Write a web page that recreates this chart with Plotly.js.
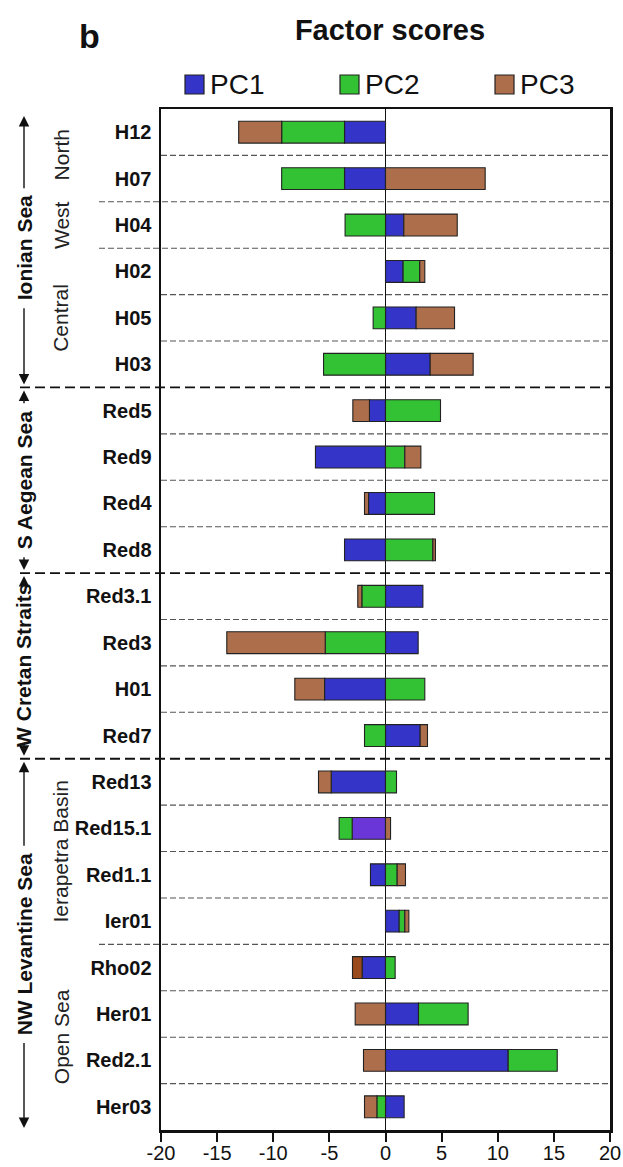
<!DOCTYPE html>
<html>
<head>
<meta charset="utf-8">
<script src="https://cdn.plot.ly/plotly-3.0.1.min.js"></script>
<style>html,body{margin:0;padding:0;background:#fff;}#chart{width:623px;height:1167px;}</style>
</head>
<body>
<div id="chart"></div>
<script>
// ---- data ----
const sites = ["H12","H07","H04","H02","H05","H03","Red5","Red9","Red4","Red8","Red3.1","Red3","H01","Red7","Red13","Red15.1","Red1.1","Ier01","Rho02","Her01","Red2.1","Her03"];
const seriesNames = ["PC1","PC2","PC3"];
const pc1 = [-3.65,-3.65,1.63,1.57,2.73,3.98,-1.43,-6.24,-1.51,-3.65,3.33,2.91,-5.43,3.09,-4.84,-2.97,-1.34,1.22,-2.08,2.94,10.93,1.66];
const pc2 = [-5.6,-5.6,-3.6,1.48,-1.1,-5.52,4.9,1.72,4.37,4.22,-2.11,-5.37,3.5,-1.87,0.98,-1.16,1.04,0.5,0.86,4.42,4.37,-0.77];
const pc3 = [-3.83,8.88,4.76,0.45,3.42,3.83,-1.48,1.43,-0.36,0.23,-0.36,-8.77,-2.65,0.65,-1.13,0.45,0.74,0.36,-0.86,-2.7,-1.96,-1.1];
const tickVals = [-20,-15,-10,-5,0,5,10,15,20];
const tickText = ["-20","-15","-10","-5","0","5","10","15","20"];
const majorNames = ["Ionian Sea","S Aegean Sea","W Cretan Straits","NW Levantine Sea"];
const majorStart = [0,6,10,14];
const majorEnd = [5,9,13,21];
const subNames = ["North","West","Central","Ierapetra Basin","Open Sea"];
const subStart = [0,2,3,14,18];
const subEnd = [1,2,5,17,21];

// ---- style ----
const blue = "#3434c8", green = "#33c233", brown = "#ad6e4b";
const purple = "#6a36d8", darkBrown = "#9a4a1c";
const pc1Colors = sites.map(s => s === "Red15.1" ? purple : blue);
const pc3Colors = sites.map(s => s === "Rho02" ? darkBrown : brown);
const baseColors = [blue, green, brown];
const FONT = "Liberation Sans, Arial, sans-serif";

const W = 623, H = 1167, L = 161, R = 13, T = 109, B = 37;
const plotW = W - L - R, plotH = H - T - B;
const rowPx = plotH / sites.length;
const px2x = px => (px - L) / plotW;
const py2y = py => 1 - (py - T) / plotH;

const lineStyle = {color: "#222", width: 1.1};
const traces = [
  {type: "bar", orientation: "h", name: seriesNames[0], y: sites, x: pc1, marker: {color: pc1Colors, line: lineStyle}},
  {type: "bar", orientation: "h", name: seriesNames[1], y: sites, x: pc2, marker: {color: green, line: lineStyle}},
  {type: "bar", orientation: "h", name: seriesNames[2], y: sites, x: pc3, marker: {color: pc3Colors, line: lineStyle}}
];

// separators
const shapes = [];
for (let i = 0; i < sites.length - 1; i++) {
  const isMajor = majorEnd.includes(i);
  const isSub = subEnd.includes(i);
  shapes.push({
    type: "line", layer: "below", xref: "paper", yref: "y",
    x0: isMajor ? px2x(20) : (isSub ? px2x(99) : 0), x1: 1,
    y0: i + 0.5, y1: i + 0.5,
    line: isMajor ? {color: "#111", width: 1.8, dash: "10px,5px"} : {color: "#555", width: 1.1, dash: "6px,3px"}
  });
}

// legend (manual)
const legX = [185, 340, 495];
const annotations = [];
seriesNames.forEach((n, k) => {
  shapes.push({type: "rect", xref: "paper", yref: "paper",
    x0: px2x(legX[k]), x1: px2x(legX[k] + 19), y0: py2y(94), y1: py2y(75),
    fillcolor: baseColors[k], line: {color: "#222", width: 1.2}});
  annotations.push({xref: "paper", yref: "paper", x: px2x(legX[k] + 23), y: py2y(85),
    xanchor: "left", yanchor: "middle", showarrow: false, text: n,
    font: {family: FONT, size: 28, color: "#111"}});
});

// panel letter
annotations.push({xref: "paper", yref: "paper", x: px2x(89), y: py2y(36), xanchor: "center", yanchor: "middle",
  showarrow: false, text: "<b>b</b>", font: {family: FONT, size: 34, color: "#111"}});

// measure text
const cv = document.createElement("canvas").getContext("2d");
cv.font = 'bold 21px "Liberation Sans"';

const majX = px2x(24);
majorNames.forEach((n, k) => {
  const top = majorStart[k] - 0.5, bot = majorEnd[k] + 0.5;
  const yc = (top + bot) / 2;
  const half = cv.measureText(n).width / 2;
  const inset = (k === 0 ? 7 : 3) / rowPx;
  const insetB = (k === majorNames.length - 1 ? 2 : 3) / rowPx;
  const headTop = top + inset, headBot = bot - insetB;
  let ayTop = (yc - headTop) * rowPx - half - 6;
  let ayBot = (headBot - yc) * rowPx - half - 6;
  ayTop = Math.max(ayTop, 12); ayBot = Math.max(ayBot, 12);
  const arrowCommon = {xref: "paper", yref: "y", x: majX, ax: 0, text: "", showarrow: true,
    arrowhead: 2, arrowsize: 1.5, arrowwidth: 1.4, arrowcolor: "#111", standoff: 0, startstandoff: 0};
  annotations.push(Object.assign({}, arrowCommon, {y: headTop, ay: ayTop}));
  annotations.push(Object.assign({}, arrowCommon, {y: headBot, ay: -ayBot}));
  annotations.push({xref: "paper", yref: "y", x: majX, y: yc, xanchor: "center", yanchor: "middle",
    textangle: -90, showarrow: false, text: "<b>" + n + "</b>", font: {family: FONT, size: 21, color: "#111"}});
});

const subX = px2x(61);
subNames.forEach((n, k) => {
  annotations.push({xref: "paper", yref: "y", x: subX, y: (subStart[k] + subEnd[k]) / 2,
    xanchor: "center", yanchor: "middle", textangle: -90, showarrow: false, text: n,
    font: {family: FONT, size: 21, color: "#222"}});
});

const layout = {
  width: W, height: H,
  margin: {l: L, r: R, t: T, b: B, pad: 0},
  paper_bgcolor: "#fff", plot_bgcolor: "#fff",
  barmode: "relative", bargap: 0.53,
  showlegend: false,
  title: {text: "<b>Factor scores</b>", x: px2x(390), xref: "paper", xanchor: "center",
    y: 1 - 30 / H, yref: "container", yanchor: "middle",
    font: {family: FONT, size: 29, color: "#111"}},
  xaxis: {range: [-20, 20], tickvals: tickVals, ticktext: tickText,
    showgrid: false, zeroline: true, zerolinecolor: "#111", zerolinewidth: 1.5,
    showline: true, mirror: true, linecolor: "#111", linewidth: 2.5,
    ticks: "outside", ticklen: 9, tickwidth: 2, tickcolor: "#111", ticklabelstandoff: -6,
    tickfont: {family: FONT, size: 20, color: "#111"}, fixedrange: true},
  yaxis: {type: "category", categoryorder: "array", categoryarray: sites,
    range: [sites.length - 0.5, -0.5],
    showgrid: false, zeroline: false,
    showline: true, mirror: true, linecolor: "#111", linewidth: 2.5,
    ticks: "", ticklabelstandoff: 3,
    tickfont: {family: FONT, size: 20, color: "#111", weight: "bold"}, fixedrange: true},
  shapes: shapes,
  annotations: annotations
};

Plotly.newPlot("chart", traces, layout, {staticPlot: true, displayModeBar: false});
</script>
</body>
</html>
